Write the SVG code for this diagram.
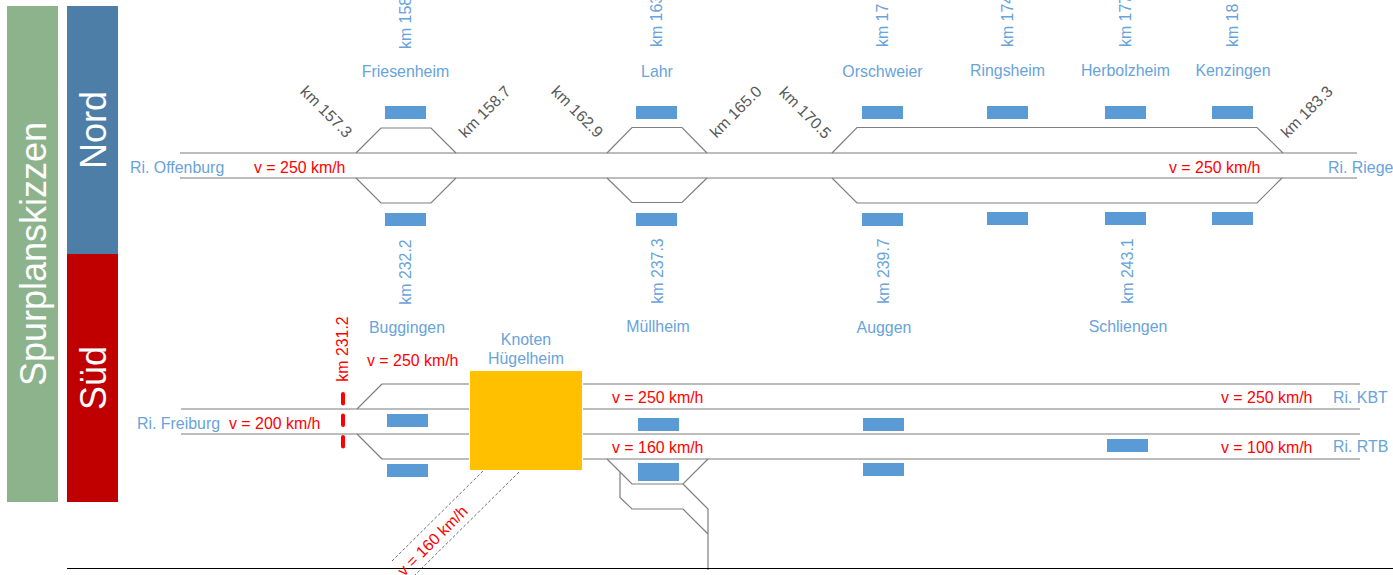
<svg xmlns="http://www.w3.org/2000/svg" width="1393" height="575" viewBox="0 0 1393 575">
<style>
text{font-family:"Liberation Sans",Arial,sans-serif;font-size:15.9px}
.b{fill:#5B9BD5}.tb{fill:#68A3DA}.k{fill:#595959}.r{fill:#FF0000}.m{text-anchor:middle}
.w{fill:#FFFFFF;font-size:36px;text-anchor:middle}
.t{fill:none;stroke:#A6A6A6;stroke-width:1.6}
.s{fill:none;stroke:#7F7F7F;stroke-width:1.2}
.d{fill:none;stroke:#6E6E6E;stroke-width:1;stroke-dasharray:3 2}
</style>
<rect width="1393" height="575" fill="#FFFFFF"/>
<g id="band-spurplanskizzen"><rect x="7" y="6" width="51" height="496" fill="#8DB38D"/><text class="w" transform="translate(46,254) rotate(-90)">Spurplanskizzen</text></g>
<g id="band-nord"><rect x="67" y="6" width="51" height="248" fill="#4D7EA8"/><text class="w" transform="translate(106,130) rotate(-90)">Nord</text></g>
<g id="band-sued"><rect x="67" y="254" width="51" height="248" fill="#C00000"/><text class="w" transform="translate(106,378) rotate(-90)">Süd</text></g>
<g id="connectors">
<path class="t" d="M180 153H1357M180 178H1357"/>
<path class="s" d="M356 153L381 128H431L456 153M356 178L381 203H431L456 178M607 153L632 127.500H682L707 153M607 178L632 202.500H682L707 178M832 153L857 127.500H1257L1283 153M832 178L857 203H1257L1282 178"/>
<path class="t" d="M181 409H469M181 434H469M382 384H469M382 459H469M583 384H1360M583 409H1360M583 434H1360M583 459H1360"/>
<path class="s" d="M357 409L382 384M357 434L382 459M607 459L632 484H683L708 459M620 472V497.500L632 509H683L708 534M683 484L708 509V570"/>
<path class="d" d="M483 471L392 561M519 472L415 575"/>
<path d="M67 568.500H1393" stroke="#000000" stroke-width="1.2" fill="none"/>
<path d="M343 394V447" stroke="#FF0000" stroke-width="4" stroke-linecap="round" stroke-dasharray="9.500 12" fill="none"/>
</g>
<g id="node-friesenheim"><rect class="b" x="385" y="106" width="41" height="13"/><rect class="b" x="385" y="213" width="41" height="13"/><text class="tb m" x="405.500" y="77">Friesenheim</text><text class="tb" transform="translate(411,49) rotate(-90)">km 158</text></g>
<g id="node-lahr"><rect class="b" x="636" y="106" width="41" height="13"/><rect class="b" x="636" y="213" width="41" height="13"/><text class="tb m" x="657" y="77">Lahr</text><text class="tb" transform="translate(662,47) rotate(-90)">km 163</text></g>
<g id="node-orschweier"><rect class="b" x="862" y="106" width="41" height="13"/><rect class="b" x="862" y="213" width="41" height="13"/><text class="tb m" x="882.500" y="77">Orschweier</text><text class="tb" transform="translate(888,47) rotate(-90)">km 17</text></g>
<g id="node-ringsheim"><rect class="b" x="987" y="106" width="41" height="13"/><rect class="b" x="987" y="212" width="41" height="13"/><text class="tb m" x="1007.500" y="76">Ringsheim</text><text class="tb" transform="translate(1013,47) rotate(-90)">km 174</text></g>
<g id="node-herbolzheim"><rect class="b" x="1105" y="106" width="41" height="13"/><rect class="b" x="1105" y="212" width="41" height="13"/><text class="tb m" x="1125.500" y="76">Herbolzheim</text><text class="tb" transform="translate(1131,47) rotate(-90)">km 177</text></g>
<g id="node-kenzingen"><rect class="b" x="1212" y="106" width="41" height="13"/><rect class="b" x="1212" y="212" width="41" height="13"/><text class="tb m" x="1233" y="76">Kenzingen</text><text class="tb" transform="translate(1238,47) rotate(-90)">km 18</text></g>
<g id="labels-km-nord">
<text class="k m" transform="translate(326,112) rotate(45) translate(0,5)">km 157.3</text>
<text class="k m" transform="translate(485,112) rotate(-45) translate(0,5)">km 158.7</text>
<text class="k m" transform="translate(577,112) rotate(45) translate(0,5)">km 162.9</text>
<text class="k m" transform="translate(736,112) rotate(-45) translate(0,5)">km 165.0</text>
<text class="k m" transform="translate(805,113) rotate(45) translate(0,5)">km 170.5</text>
<text class="k m" transform="translate(1307,112) rotate(-45) translate(0,5)">km 183.3</text>
</g>
<g id="labels-nord">
<text class="tb" x="130" y="173">Ri. Offenburg</text>
<text class="r" x="254" y="173">v = 250 km/h</text>
<text class="r" x="1169" y="173">v = 250 km/h</text>
<text class="tb" x="1328" y="173">Ri. Riege</text>
</g>
<g id="node-buggingen"><rect class="b" x="387" y="414" width="41" height="13"/><rect class="b" x="387" y="464" width="41" height="13"/><text class="tb m" x="407" y="333">Buggingen</text><text class="tb m" transform="translate(411,272) rotate(-90)">km 232.2</text></g>
<g id="node-muellheim"><rect class="b" x="638" y="418" width="41" height="13"/><rect class="b" x="638" y="463" width="41" height="18"/><text class="tb m" x="658" y="332">Müllheim</text><text class="tb m" transform="translate(663,271) rotate(-90)">km 237.3</text></g>
<g id="node-auggen"><rect class="b" x="863" y="418" width="41" height="13"/><rect class="b" x="863" y="463" width="41" height="13"/><text class="tb m" x="884" y="333">Auggen</text><text class="tb m" transform="translate(889,271) rotate(-90)">km 239.7</text></g>
<g id="node-schliengen"><rect class="b" x="1107" y="439" width="41" height="13"/><text class="tb m" x="1128" y="332">Schliengen</text><text class="tb m" transform="translate(1133,271) rotate(-90)">km 243.1</text></g>
<g id="node-knoten"><rect x="470" y="371" width="112" height="99" fill="#FFC000"/><text class="tb m" x="526" y="345">Knoten</text><text class="tb m" x="526" y="364">Hügelheim</text></g>
<g id="labels-sued">
<text class="r m" transform="translate(348,349) rotate(-90)">km 231.2</text>
<text class="r" x="367" y="366">v = 250 km/h</text>
<text class="tb" x="137" y="429">Ri. Freiburg</text>
<text class="r" x="229" y="429">v = 200 km/h</text>
<text class="r" x="612" y="403">v = 250 km/h</text>
<text class="r" x="612" y="453">v = 160 km/h</text>
<text class="r" x="1221" y="403">v = 250 km/h</text>
<text class="r" x="1221" y="453">v = 100 km/h</text>
<text class="tb" x="1333" y="403">Ri. KBT</text>
<text class="tb" x="1333" y="452">Ri. RTB</text>
<text class="r" transform="translate(404,577) rotate(-45)">v = 160 km/h</text>
</g>
</svg>
